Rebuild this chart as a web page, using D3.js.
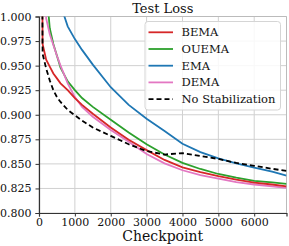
<!DOCTYPE html>
<html><head><meta charset="utf-8">
<script src="https://cdn.jsdelivr.net/npm/d3@7"></script>
<style>body{margin:0;background:#fff}svg{display:block}text{font-family:"DejaVu Serif",serif;fill:#111}</style>
</head><body><svg id="c" width="289" height="246"></svg>
<script>
const checkpoints = [0,100,200,300,400,500,600,800,1000,1200,1500,2000,2500,3000,3500,4000,4500,5000,5500,6000,6500,6900];
const bema   = [1.8,0.972,0.956,0.949,0.942,0.937,0.932,0.925,0.917,0.910,0.901,0.887,0.8745,0.864,0.854,0.8465,0.8415,0.8375,0.834,0.831,0.829,0.827];
const ouema  = [1.6,1.15,1.03,0.988,0.972,0.960,0.948,0.934,0.925,0.917,0.908,0.895,0.882,0.870,0.8595,0.851,0.8448,0.8397,0.836,0.8328,0.8312,0.8297];
const ema    = [1.6,1.3,1.15,1.09,1.055,1.03,1.012,0.990,0.977,0.966,0.951,0.928,0.910,0.896,0.8835,0.8705,0.862,0.8556,0.8505,0.8463,0.842,0.838];
const dema   = [1.6,1.1,0.998,0.982,0.971,0.960,0.950,0.932,0.918,0.908,0.898,0.8845,0.8725,0.860,0.8505,0.8435,0.8385,0.835,0.8315,0.829,0.827,0.8255];
const nostab = [1.8,0.962,0.947,0.935,0.925,0.918,0.913,0.905,0.8995,0.894,0.887,0.8785,0.870,0.863,0.8595,0.861,0.858,0.855,0.851,0.848,0.845,0.8428];
const seriesNames = ["BEMA","OUEMA","EMA","DEMA","No Stabilization"];
const seriesData = [bema, ouema, ema, dema, nostab];
const colors = ["#d62728","#2ca02c","#1f77b4","#e377c2","#000000"];
const xTicks = [0,1000,2000,3000,4000,5000,6000];
const yTicks = [0.800,0.825,0.850,0.875,0.900,0.925,0.950,0.975,1.000];

const svg = d3.select("#c");
const L=39, R=286.5, T=16.5, B=213;
const x = d3.scaleLinear().domain([0,6900]).range([L,R]);
const y = d3.scaleLinear().domain([0.8,1.0]).range([B,T]);

const g = svg.append("g");
g.selectAll(".vg").data(xTicks).join("line").attr("x1",d=>x(d)).attr("x2",d=>x(d)).attr("y1",T).attr("y2",B).attr("stroke","#d0d0d0").attr("stroke-width",1);
g.selectAll(".hg").data(yTicks).join("line").attr("y1",d=>y(d)).attr("y2",d=>y(d)).attr("x1",L).attr("x2",R).attr("stroke","#d0d0d0").attr("stroke-width",1);
svg.append("line").attr("x1",L).attr("x2",R).attr("y1",T).attr("y2",T).attr("stroke","#bbb");
svg.append("line").attr("x1",R).attr("x2",R).attr("y1",T).attr("y2",B).attr("stroke","#bbb");

svg.append("defs").append("clipPath").attr("id","clip").append("rect").attr("x",L).attr("y",T).attr("width",R-L).attr("height",B-T);

const line = d3.line().x((d,i)=>x(checkpoints[i])).y(d=>y(d));
const lg = svg.append("g").attr("clip-path","url(#clip)");
[2,1,3,0,4].forEach(k=>{
  lg.append("path").attr("d",line(seriesData[k])).attr("fill","none").attr("stroke",colors[k]).attr("stroke-width",1.8)
    .attr("stroke-dasharray",k===4?"5,3":null);
});

const xa = svg.append("g").attr("transform",`translate(0,${B})`).call(d3.axisBottom(x).tickValues(xTicks).tickFormat(d3.format("d")).tickSizeOuter(0).tickSize(3.5).tickPadding(1.5));
const ya = svg.append("g").attr("transform",`translate(${L},0)`).call(d3.axisLeft(y).tickValues(yTicks).tickFormat(d3.format(".3f")).tickSizeOuter(0).tickSize(3.5));
[xa,ya].forEach(a=>{a.select(".domain").attr("stroke","#333").attr("stroke-width",1.2);a.selectAll(".tick line").attr("stroke","#333");a.selectAll("text").attr("font-family","DejaVu Serif").attr("font-size",11).attr("fill","#111");});
ya.selectAll("text").attr("dx","-0.1em");

svg.append("text").attr("x",(L+R)/2).attr("y",13).attr("text-anchor","middle").attr("font-size",13).text("Test Loss");
svg.append("text").attr("x",(L+R)/2).attr("y",241).attr("text-anchor","middle").attr("font-size",14).text("Checkpoint");

const leg = svg.append("g");
leg.append("rect").attr("x",145).attr("y",21.5).attr("width",135.5).attr("height",88.5).attr("rx",3).attr("fill","#fff").attr("fill-opacity",0.85).attr("stroke","#d5d5d5");
seriesNames.forEach((n,i)=>{
  const yy = 32.3 + i*16.7;
  leg.append("line").attr("x1",148.5).attr("x2",173).attr("y1",yy).attr("y2",yy).attr("stroke",colors[i]).attr("stroke-width",1.8).attr("stroke-dasharray",i===4?"5,3":null);
  leg.append("text").attr("x",181.5).attr("y",yy+4).attr("font-size",11.5).text(n);
});
</script></body></html>
